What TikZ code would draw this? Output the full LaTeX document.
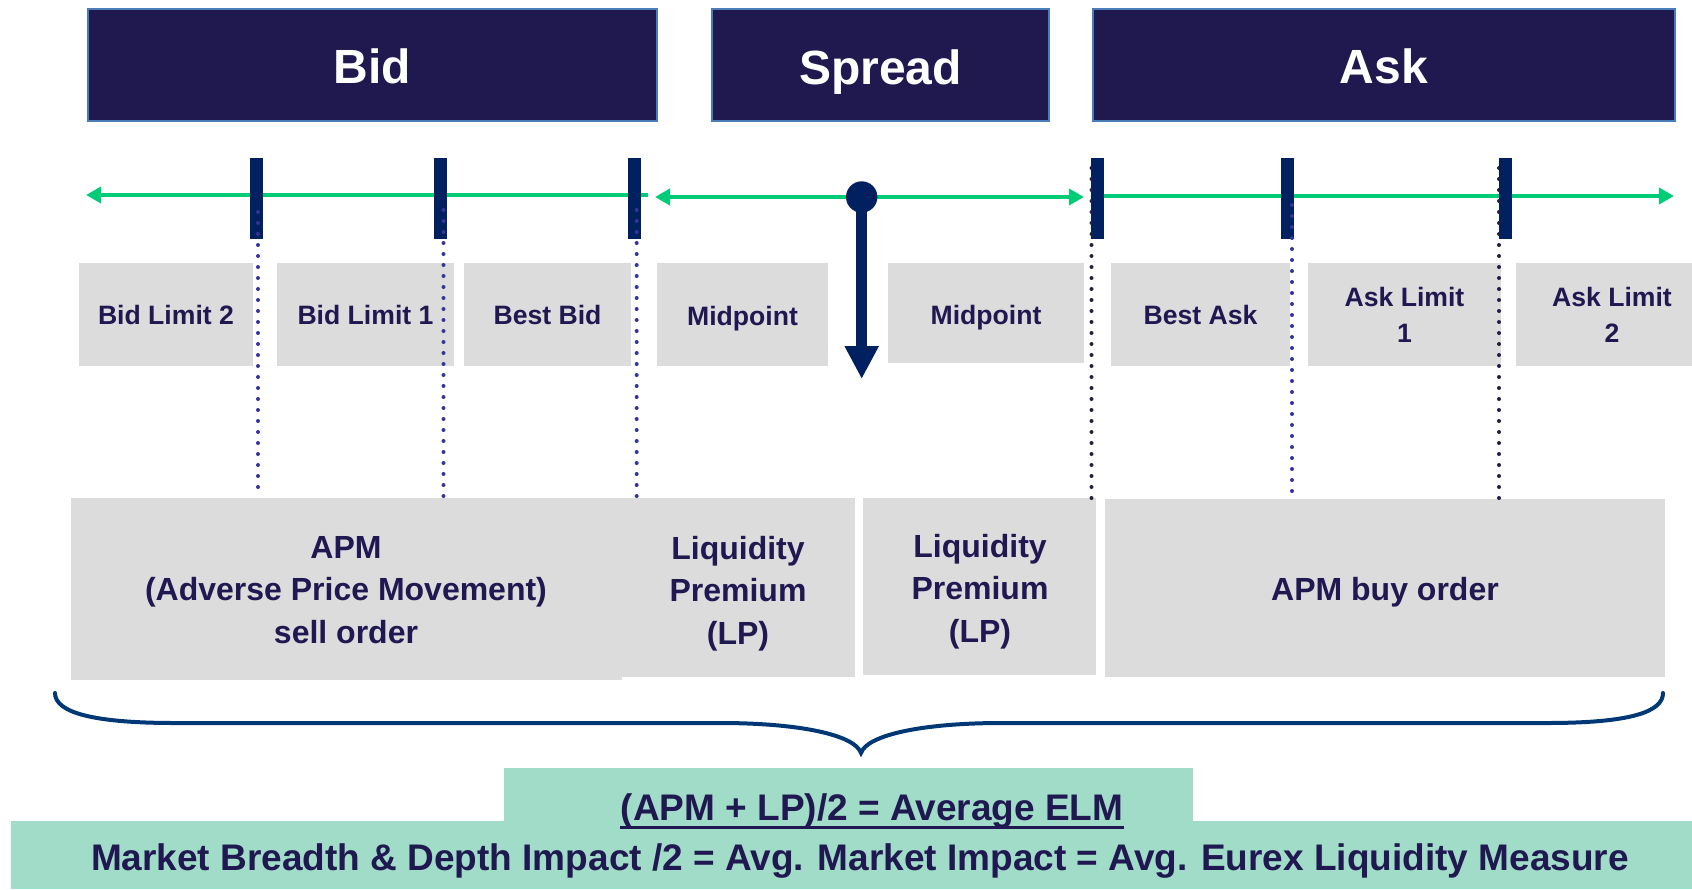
\documentclass[tikz,border=0pt]{standalone}
\usepackage{fontspec}
\setmainfont{Liberation Sans}
\usetikzlibrary{arrows.meta}

\definecolor{headnavy}{RGB}{32,25,80}
\definecolor{headedge}{RGB}{74,126,187}
\definecolor{ticknavy}{RGB}{0,32,96}
\definecolor{axisgreen}{RGB}{0,204,119}
\definecolor{cellgray}{RGB}{220,220,220}
\definecolor{labelink}{RGB}{32,24,80}
\definecolor{dotblue}{RGB}{51,51,153}
\definecolor{dotnavy}{RGB}{30,30,70}
\definecolor{bracenavy}{RGB}{0,56,118}
\definecolor{elmgreen}{RGB}{160,220,200}

\tikzset{
  headbox/.style={draw=headedge, line width=1.3pt, fill=headnavy},
  headtext/.style={text=white, font=\bfseries\fontsize{24}{28}\selectfont},
  cellbox/.style={fill=cellgray},
  celltext/.style={text=labelink, align=center, font=\bfseries\fontsize{13.3}{18.3}\selectfont},
  bigtext/.style={text=labelink, align=center, font=\bfseries\fontsize{16}{21.3}\selectfont},
  elmtext/.style={text=labelink, inner sep=0pt, font=\bfseries\fontsize{18.5}{22}\selectfont},
  axis/.style={draw=axisgreen, line width=2pt},
  axistip/.style={-{Triangle[length=7.5pt,width=8pt]}},
  dotline/.style={line width=2pt, line cap=round, dash pattern=on 0pt off 5.5pt}
}

\begin{document}
\begin{tikzpicture}[x=0.5pt,y=0.5pt,yscale=-1]
\useasboundingbox (0,0) rectangle (1692,889);

%Shape: header boxes
\draw[headbox] (88,9) rectangle (657,121);
\draw[headbox] (712,9) rectangle (1049,121);
\draw[headbox] (1093,9) rectangle (1675,121);
\node[headtext] (bid) at (372.5,66) {Bid};
\node[headtext] (spread) at (880.5,72) {Spread};
\node[headtext] (ask) at (1384,66) {Ask};

%Straight Lines: price axis
\draw[axis, axistip] (648,195) -- (86,195);
\draw[axis, axistip] (1104,196) -- (1674,196);
\draw[axis, {Triangle[length=7.5pt,width=8pt]}-{Triangle[length=7.5pt,width=8pt]}] (655,197) -- (1084,197);

%Shape: price level bars
\foreach \x in {256,440,634.5,1097.5,1287,1505.5}
  \fill[ticknavy] (\x-6.5,158) rectangle (\x+6.5,239);

%Shape: midpoint marker
\node[circle, fill=ticknavy, minimum size=15.7pt, inner sep=0pt] (mid) at (861.7,197) {};
\coordinate (midtip) at (861.7,379);
\draw[ticknavy, line width=5.5pt, -{Triangle[length=16.5pt,width=16pt]}] (mid.center) -- (midtip);

%Shape: level cells
\fill[cellbox] (79,263) rectangle (253,366);
\fill[cellbox] (277,263) rectangle (454,366);
\fill[cellbox] (464,263) rectangle (631,366);
\fill[cellbox] (657,263) rectangle (828,366);
\fill[cellbox] (888,263) rectangle (1084,363);
\fill[cellbox] (1111,263) rectangle (1290,366);
\fill[cellbox] (1308,263) rectangle (1501,366);
\fill[cellbox] (1516,263) rectangle (1692,366);

% Text Node
\node[celltext] (bidlimtwo) at (166,315) {Bid Limit 2};
\node[celltext] (bidlimone) at (365.5,315) {Bid Limit 1};
\node[celltext] (bestbid) at (547.5,315) {Best Bid};
\node[celltext] (midleft) at (742.5,319) {Midpoint};
\node[celltext] (midright) at (986,318) {Midpoint};
\node[celltext] (bestask) at (1200.5,315) {Best Ask};
\node[celltext] (asklimone) at (1404.5,315) {Ask Limit\\1};
\node[celltext] (asklimtwo) at (1612,315) {Ask Limit\\2};

%Shape: measure cells
\fill[cellbox] (71,498) rectangle (621.5,680);
\fill[cellbox] (621.5,498) rectangle (855,677);
\fill[cellbox] (863,498) rectangle (1096,674.5);
\fill[cellbox] (1105,499) rectangle (1665,677);

% Text Node
\node[bigtext] (apmsell) at (346,590) {APM\\(Adverse Price Movement)\\sell order};
\node[bigtext] (lpleft) at (738,593.5) {Liquidity\\Premium\\(LP)};
\node[bigtext] (lpright) at (980,591.5) {Liquidity\\Premium\\(LP)};
\node[bigtext] (apmbuy) at (1385,592) {APM buy order};

%Straight Lines: dotted level guides
\foreach \x/\ya/\yb in {258/212/496,443.5/210/496,636.7/210/496,1292/205/496}
  \draw[dotline, dotblue] (\x,\ya) -- (\x,\yb);
\foreach \x in {1091.5,1499}
  \draw[dotline, dotnavy] (\x,168) -- (\x,500);

%Curve Lines: brace
\draw[bracenavy, line width=2pt, line cap=round]
  (55,693) .. controls (55,713) and (95,723) .. (175,723) -- (720,723)
  .. controls (800,723) and (855,735) .. (861,753)
  .. controls (867,735) and (922,723) .. (1002,723) -- (1547,723)
  .. controls (1630,723) and (1663,712) .. (1663,693);

%Shape: summary bands
\fill[elmgreen] (504,768) rectangle (1192.5,822);
\fill[elmgreen] (11,821) rectangle (1692,889);

% Text Node
\node[elmtext] (avgelm) at (872,811) {(APM + LP)/2 = Average ELM};
\draw[labelink, line width=1.3pt] ([yshift=3.5pt]avgelm.base west) -- ([yshift=3.5pt]avgelm.base east);
\node[elmtext] (avgmeasure) at (860,861) {Market Breadth \& Depth Impact /2 = Avg. Market Impact = Avg. Eurex Liquidity Measure};

\end{tikzpicture}
\end{document}
